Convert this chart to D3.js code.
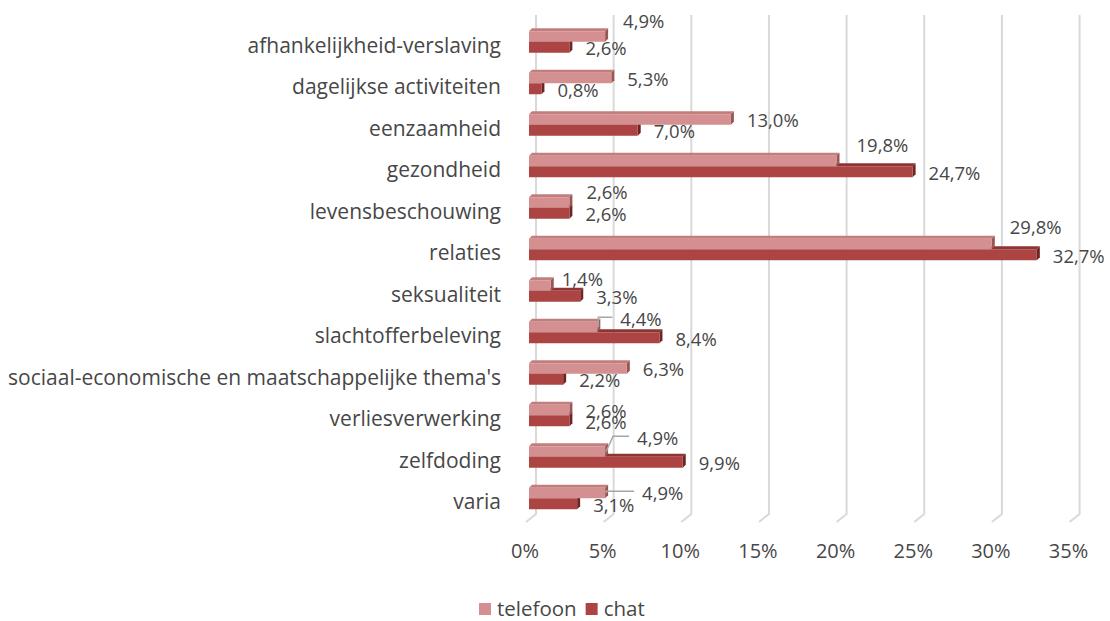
<!DOCTYPE html>
<html>
<head>
<meta charset="utf-8">
<script src="https://cdn.jsdelivr.net/npm/d3@7"></script>
<style>
  html, body { margin: 0; padding: 0; background: #fff; }
  svg { display: block; }
  text { font-family: "Open Sans", sans-serif; fill: #474747; }
</style>
</head>
<body>
<svg id="chart" width="1110" height="621"></svg>
<script>
// ---- data ----
const categories = [
  "afhankelijkheid-verslaving",
  "dagelijkse activiteiten",
  "eenzaamheid",
  "gezondheid",
  "levensbeschouwing",
  "relaties",
  "seksualiteit",
  "slachtofferbeleving",
  "sociaal-economische en maatschappelijke thema's",
  "verliesverwerking",
  "zelfdoding",
  "varia"
];
const seriesNames = ["telefoon", "chat"];
const telefoon = [4.9, 5.3, 13.0, 19.8, 2.6, 29.8, 1.4, 4.4, 6.3, 2.6, 4.9, 4.9];
const chat     = [2.6, 0.8, 7.0, 24.7, 2.6, 32.7, 3.3, 8.4, 2.2, 2.6, 9.9, 3.1];
const tickValues = [0, 5, 10, 15, 20, 25, 30, 35];

// ---- layout (manual label moves, as in the original) ----
const telLabelMove = {
  "afhankelijkheid-verslaving": {dx: 2, dy: -16},
  "gezondheid": {dx: 4, dy: -17},
  "levensbeschouwing": {dx: 1, dy: -11},
  "relaties": {dx: 2, dy: -18},
  "seksualiteit": {dx: -5, dy: -7},
  "slachtofferbeleving": {dx: 7, dy: -9, leader: true, elbow: 0},
  "zelfdoding": {dx: 16, dy: -14.5, leader: true, elbow: 7},
  "varia": {dx: 21, dy: -1, leader: true, elbow: 0}
};

const svg = d3.select("#chart");
const fmt = v => d3.format(".1f")(v).replace(".", ",") + "%";

const x = d3.scaleLinear().domain([0, 35]).range([529, 529 + 35 * 15.53]);
const y = d3.scaleBand().domain(categories).range([21, 519]).paddingInner(0);
const cy = c => y(c) + y.bandwidth() / 2;

const backDx = 7, gridTop = 15, gridBottom = 514, floorDx = -10, floorDy = 8;

// gridlines (back wall + floor)
const grid = svg.append("g");
tickValues.forEach(t => {
  const bx = x(t) + backDx;
  grid.append("path")
    .attr("d", `M${bx},${gridTop}L${bx},${gridBottom}L${bx + floorDx},${gridBottom + floorDy}`)
    .attr("fill", "none").attr("stroke", "#D9D9D9").attr("stroke-width", 2);
});

// x tick labels
svg.append("g").selectAll("text").data(tickValues).join("text")
  .attr("x", d => x(d) - 4).attr("y", 551).attr("dy", "0.35em")
  .attr("text-anchor", "middle").style("font-size", "20px")
  .text(d => d + "%");

// category labels
svg.append("g").selectAll("text").data(categories).join("text")
  .attr("x", 501).attr("y", d => cy(d) + 3.5).attr("dy", "0.35em")
  .attr("text-anchor", "end").style("font-size", "21px")
  .text(d => d);

// 3D bars
const depth = 3;
const styles = {
  telefoon: {front: "#D49090", top: "#C37D7D", side: "#9A5555", h0: -10.5, h1: 0},
  chat:     {front: "#AB4442", top: "#8E3432", side: "#6E2422", h0: 0, h1: 11}
};
function bar(g, cat, v, s) {
  const c = cy(cat);
  const x0 = x(0), x1 = x(v), t = c + s.h0, b = c + s.h1;
  g.append("path").attr("fill", s.top)
    .attr("d", `M${x0},${t}L${x1},${t}L${x1 + depth},${t - depth}L${x0 + depth},${t - depth}Z`);
  g.append("path").attr("fill", s.side)
    .attr("d", `M${x1},${t}L${x1 + depth},${t - depth}L${x1 + depth},${b - depth}L${x1},${b}Z`);
  g.append("rect").attr("x", x0).attr("y", t).attr("width", x1 - x0).attr("height", b - t)
    .attr("fill", s.front);
}
const bars = svg.append("g");
categories.forEach((cat, i) => bar(bars, cat, chat[i], styles.chat));
categories.forEach((cat, i) => bar(bars, cat, telefoon[i], styles.telefoon));

// value labels
const labels = svg.append("g");
categories.forEach((cat, i) => {
  const c = cy(cat);
  // chat label
  labels.append("text")
    .attr("x", x(chat[i]) + 16).attr("y", c + 7).attr("dy", "0.35em")
    .style("font-size", "18.5px").text(fmt(chat[i]));
  // telefoon label
  const m = telLabelMove[cat] || {dx: 0, dy: 0};
  const lx = x(telefoon[i]) + 16 + m.dx;
  const ly = c - 4 + m.dy;
  if (m.leader) {
    const sx = x(telefoon[i]) + 1, sy = c - 5.25;
    const ex = lx - 8, ey = ly - 2;
    labels.append("path")
      .attr("d", `M${sx},${sy}L${sx + m.elbow},${ey}L${ex},${ey}`)
      .attr("fill", "none").attr("stroke", "#A6A6A6").attr("stroke-width", 1.5);
  }
  labels.append("text")
    .attr("x", lx).attr("y", ly).attr("dy", "0.35em")
    .style("font-size", "18.5px").text(fmt(telefoon[i]));
});

// legend
const legendColors = {telefoon: "#D49090", chat: "#AB4442"};
const lg = svg.append("g");
let lxPos = 479;
seriesNames.forEach(n => {
  lg.append("rect").attr("x", lxPos).attr("y", 603).attr("width", 12).attr("height", 12)
    .attr("fill", legendColors[n]);
  const t = lg.append("text").attr("x", lxPos + 18).attr("y", 608.5).attr("dy", "0.35em")
    .style("font-size", "20.5px").text(n);
  lxPos += 18 + t.node().getComputedTextLength() + 9;
});
</script>
</body>
</html>
